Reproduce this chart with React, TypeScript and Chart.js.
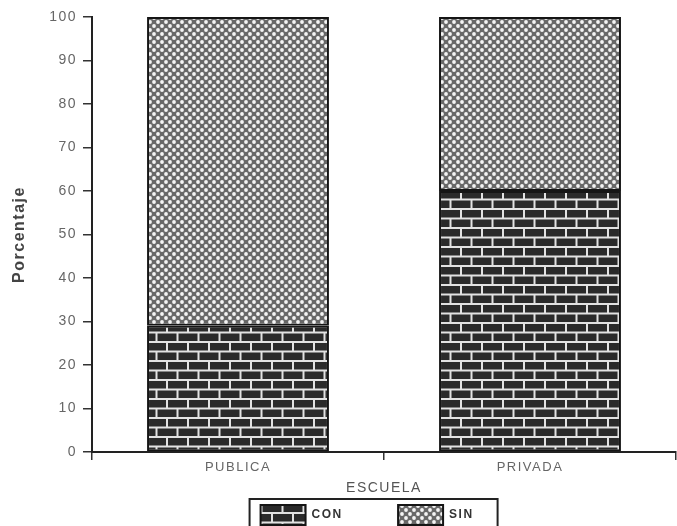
import React, { useEffect, useRef } from 'react';
import { Chart, registerables } from 'chart.js';

Chart.register(...registerables);

const categories = ['PUBLICA', 'PRIVADA'];
const conValues = [29, 60];
const sinValues = [71, 40];
const seriesNames = ['CON', 'SIN'];
const yMin = 0;
const yMax = 100;
const yStep = 10;
const xTitle = 'ESCUELA';
const yTitle = 'Porcentaje';

const FONT = '"Liberation Sans", Arial, sans-serif';

function makeBrick(): CanvasPattern | string {
  const c = document.createElement('canvas');
  c.width = 42;
  c.height = 19;
  const g = c.getContext('2d');
  if (!g) return '#333';
  g.fillStyle = '#e2e2e2';
  g.fillRect(0, 0, 42, 19);
  g.fillStyle = '#2a2a2a';
  const bh = 7.5, pitchY = 9.5, bw = 19, pitchX = 21;
  for (let r = 0; r < 2; r++) {
    const off = r ? -10.5 : 0;
    for (let k = 0; k < 4; k++) g.fillRect(off + k * pitchX, r * pitchY + 1, bw, bh);
  }
  return g.createPattern(c, 'repeat') || '#333';
}

function makeCross(): CanvasPattern | string {
  const c = document.createElement('canvas');
  c.width = 8;
  c.height = 8;
  const g = c.getContext('2d');
  if (!g) return '#999';
  g.fillStyle = '#686868';
  g.fillRect(0, 0, 8, 8);
  g.fillStyle = '#f4f4f4';
  for (const [x, y] of [[2, 2], [6, 6]]) {
    g.beginPath();
    g.arc(x, y, 1.9, 0, Math.PI * 2);
    g.fill();
  }
  return g.createPattern(c, 'repeat') || '#999';
}

const legendPad = ['\u0020'.repeat(10), '\u0020'.repeat(7)];

const framePlugin = {
  id: 'frame',
  beforeUpdate(chart: any) {
    chart.ctx.letterSpacing = '1.5px';
  },
  beforeDraw(chart: any) {
    chart.ctx.letterSpacing = '1.5px';
  },
  afterDraw(chart: any) {
    const lg = chart.legend;
    if (!lg || !lg.legendHitBoxes || !lg.legendHitBoxes.length) return;
    const hb = lg.legendHitBoxes;
    const ctx = chart.ctx;
    ctx.save();
    ctx.font = `bold 12px ${FONT}`;
    const last = hb[hb.length - 1];
    const endText = last.left + 45 + 6 + ctx.measureText(seriesNames[seriesNames.length - 1]).width;
    const left = hb[0].left - 11;
    const right = endText + 24;
    ctx.strokeStyle = '#222';
    ctx.lineWidth = 2;
    ctx.strokeRect(left, lg.top + 1, right - left, lg.bottom - lg.top + 10);
    ctx.restore();
  },
};

export default function App() {
  const ref = useRef<HTMLCanvasElement>(null);
  useEffect(() => {
    if (!ref.current) return;
    Chart.defaults.font.family = FONT;
    const brick = makeBrick();
    const cross = makeCross();
    const chart = new Chart(ref.current, {
      type: 'bar',
      data: {
        labels: categories,
        datasets: [
          {
            label: seriesNames[0],
            data: conValues,
            backgroundColor: brick as any,
            borderColor: '#151515',
            borderWidth: 2,
            borderSkipped: false,
            barPercentage: 0.623,
            categoryPercentage: 1,
          },
          {
            label: seriesNames[1],
            data: sinValues,
            backgroundColor: cross as any,
            borderColor: '#151515',
            borderWidth: 2,
            borderSkipped: false,
            barPercentage: 0.623,
            categoryPercentage: 1,
          },
        ],
      },
      options: {
        responsive: false,
        animation: false,
        devicePixelRatio: 1,
        layout: { padding: { left: 0, right: 1, top: 17, bottom: -9 } },
        plugins: {
          legend: {
            position: 'bottom',
            fullSize: false,
            labels: {
              boxWidth: 45,
              boxHeight: 20,
              padding: 7,
              color: '#333',
              font: { family: FONT, size: 12, weight: 'bold' },
              generateLabels: (ch: any) => {
                const items = (Chart.defaults.plugins.legend.labels as any).generateLabels(ch);
                return items.map((it: any, i: number) => ({ ...it, text: it.text + (legendPad[i] || '') }));
              },
            },
          },
          tooltip: { enabled: false },
        },
        scales: {
          x: {
            stacked: true,
            offset: true,
            grid: {
              display: true,
              offset: true,
              drawOnChartArea: false,
              drawTicks: true,
              tickLength: 8,
              color: '#333',
              lineWidth: 1.5,
            },
            border: { display: true, color: '#222', width: 2 },
            ticks: { color: '#666', font: { family: FONT, size: 13 }, padding: 0, maxRotation: 0 },
            title: {
              display: true,
              text: xTitle,
              color: '#555',
              font: { family: FONT, size: 14 },
              padding: { top: 0, bottom: 1 },
            },
            afterFit: (s: any) => {
              s.height = 46;
            },
          },
          y: {
            stacked: true,
            min: yMin,
            max: yMax,
            ticks: { stepSize: yStep, color: '#666', font: { family: FONT, size: 14 }, padding: 6 },
            grid: { drawOnChartArea: false, tickLength: 9, color: '#333', lineWidth: 1.5 },
            border: { display: true, color: '#222', width: 2 },
            title: {
              display: true,
              text: yTitle,
              color: '#444',
              font: { family: FONT, size: 16, weight: 'bold' },
              padding: { top: 10, bottom: 0 },
            },
            afterFit: (s: any) => {
              s.width = 92;
            },
          },
        },
      } as any,
      plugins: [framePlugin],
    });
    return () => chart.destroy();
  }, []);
  return (
    <div style={{ position: 'fixed', left: 0, top: 0, width: 677, height: 526, background: '#fff' }}>
      <canvas ref={ref} width={677} height={526} style={{ display: 'block' }} />
    </div>
  );
}
